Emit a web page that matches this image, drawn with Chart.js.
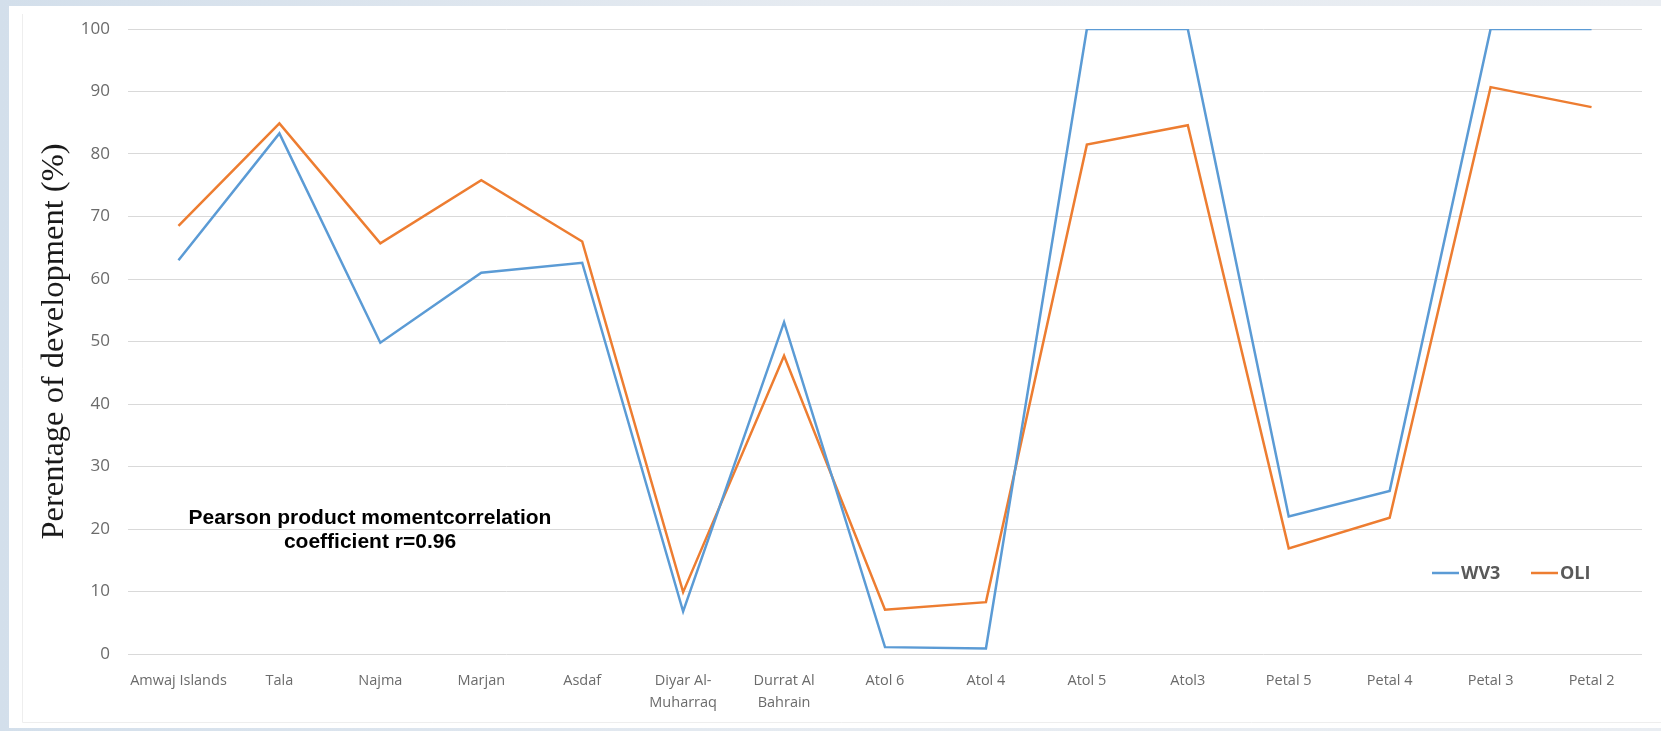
<!DOCTYPE html>
<html>
<head>
<meta charset="utf-8">
<script src="https://cdn.jsdelivr.net/npm/chart.js@4.4.1/dist/chart.umd.min.js"></script>
<style>
  html, body { margin: 0; padding: 0; background: #e4e9ef; }
  #wrap { position: absolute; left: 0; top: 0; width: 1661px; height: 731px; }
  canvas { display: block; }
</style>
</head>
<body>
<div id="wrap"><canvas id="c" width="1661" height="731"></canvas></div>
<script>
const categories = [
  "Amwaj Islands", "Tala", "Najma", "Marjan", "Asdaf",
  ["Diyar Al-", "Muharraq"], ["Durrat Al", "Bahrain"],
  "Atol 6", "Atol 4", "Atol 5", "Atol3",
  "Petal 5", "Petal 4", "Petal 3", "Petal 2"
];
const wv3 = [63.0, 83.3, 49.8, 61.0, 62.6, 6.8, 53.1, 1.1, 0.9, 100, 100, 22.0, 26.1, 100, 100];
const oli = [68.5, 84.9, 65.7, 75.8, 66.0, 9.9, 47.7, 7.1, 8.3, 81.5, 84.6, 16.9, 21.8, 90.7, 87.5];
const seriesNames = ["WV3", "OLI"];
const seriesColors = ["#5b9bd5", "#ed7d31"];
const yTicks = [0, 10, 20, 30, 40, 50, 60, 70, 80, 90, 100];
const yTitle = "Perentage of development (%)";
const noteLines = ["Pearson product momentcorrelation", "coefficient r=0.96"];

const backgroundPlugin = {
  id: 'panelBg',
  beforeDraw(chart) {
    const ctx = chart.ctx;
    const W = chart.width, H = chart.height;
    ctx.save();
    const g = ctx.createLinearGradient(0, 0, W, 0);
    g.addColorStop(0, '#d3dfeb');
    g.addColorStop(0.5, '#e6ebf1');
    g.addColorStop(1, '#e9edf2');
    ctx.fillStyle = g;
    ctx.fillRect(0, 0, W, H);
    ctx.fillStyle = '#ffffff';
    ctx.fillRect(9, 6, W - 9, 722);
    ctx.strokeStyle = '#eeeeee';
    ctx.lineWidth = 1;
    ctx.beginPath();
    ctx.moveTo(22.5, 14);
    ctx.lineTo(22.5, 722.5);
    ctx.lineTo(W, 722.5);
    ctx.stroke();
    ctx.restore();
  }
};

const notePlugin = {
  id: 'noteAndLegend',
  afterDraw(chart) {
    const ctx = chart.ctx;
    const area = chart.chartArea;
    ctx.save();
    // annotation text
    ctx.fillStyle = '#000000';
    ctx.font = 'bold 21px "Liberation Sans", Arial, sans-serif';
    ctx.textAlign = 'center';
    ctx.textBaseline = 'middle';
    const cx = area.left + 242;
    ctx.fillText(noteLines[0], cx, 518);
    ctx.fillText(noteLines[1], cx, 542);
    // legend inside plot area
    ctx.font = 'bold 18px "Open Sans", sans-serif';
    ctx.textAlign = 'left';
    let x = 1432;
    const y = 573;
    chart.data.datasets.forEach((ds, i) => {
      ctx.strokeStyle = ds.borderColor;
      ctx.lineWidth = 2.5;
      ctx.beginPath();
      ctx.moveTo(x, y);
      ctx.lineTo(x + 27, y);
      ctx.stroke();
      ctx.fillStyle = '#595959';
      ctx.fillText(ds.label, x + 29, y + 1);
      x += 99;
    });
    ctx.restore();
  }
};

new Chart(document.getElementById('c'), {
  type: 'line',
  data: {
    labels: categories,
    datasets: [
      { label: seriesNames[0], data: wv3, borderColor: seriesColors[0], backgroundColor: seriesColors[0], borderWidth: 2.5, pointRadius: 0, tension: 0, fill: false },
      { label: seriesNames[1], data: oli, borderColor: seriesColors[1], backgroundColor: seriesColors[1], borderWidth: 2.5, pointRadius: 0, tension: 0, fill: false }
    ]
  },
  options: {
    responsive: false,
    animation: false,
    devicePixelRatio: 1,
    layout: { padding: { top: 29, right: 19, bottom: 0, left: 0 } },
    plugins: {
      legend: { display: false },
      tooltip: { enabled: false },
      title: { display: false }
    },
    scales: {
      x: {
        offset: true,
        grid: { display: false, drawTicks: false },
        border: { display: false },
        ticks: {
          color: '#6b6b6b',
          font: { family: '"Open Sans", sans-serif', size: 14.5, lineHeight: '22px' },
          padding: 16,
          maxRotation: 0,
          autoSkip: false
        },
        afterFit(scale) { scale.height = 77; }
      },
      y: {
        min: 0,
        max: 100,
        afterBuildTicks(scale) { scale.ticks = yTicks.map(v => ({ value: v })); },
        grid: { color: '#d9d9d9', lineWidth: 1, drawTicks: false },
        border: { display: false },
        ticks: {
          color: '#6b6b6b',
          font: { family: '"Open Sans", sans-serif', size: 17 },
          padding: 18
        },
        title: {
          display: true,
          text: yTitle,
          color: '#1a1a1a',
          font: { family: '"Liberation Serif", "Times New Roman", serif', size: 32.5, lineHeight: 1.2 },
          padding: { top: 34.5, bottom: 0 }
        },
        afterFit(scale) { scale.width = 128; }
      }
    }
  },
  plugins: [backgroundPlugin, notePlugin]
});
</script>
</body>
</html>
